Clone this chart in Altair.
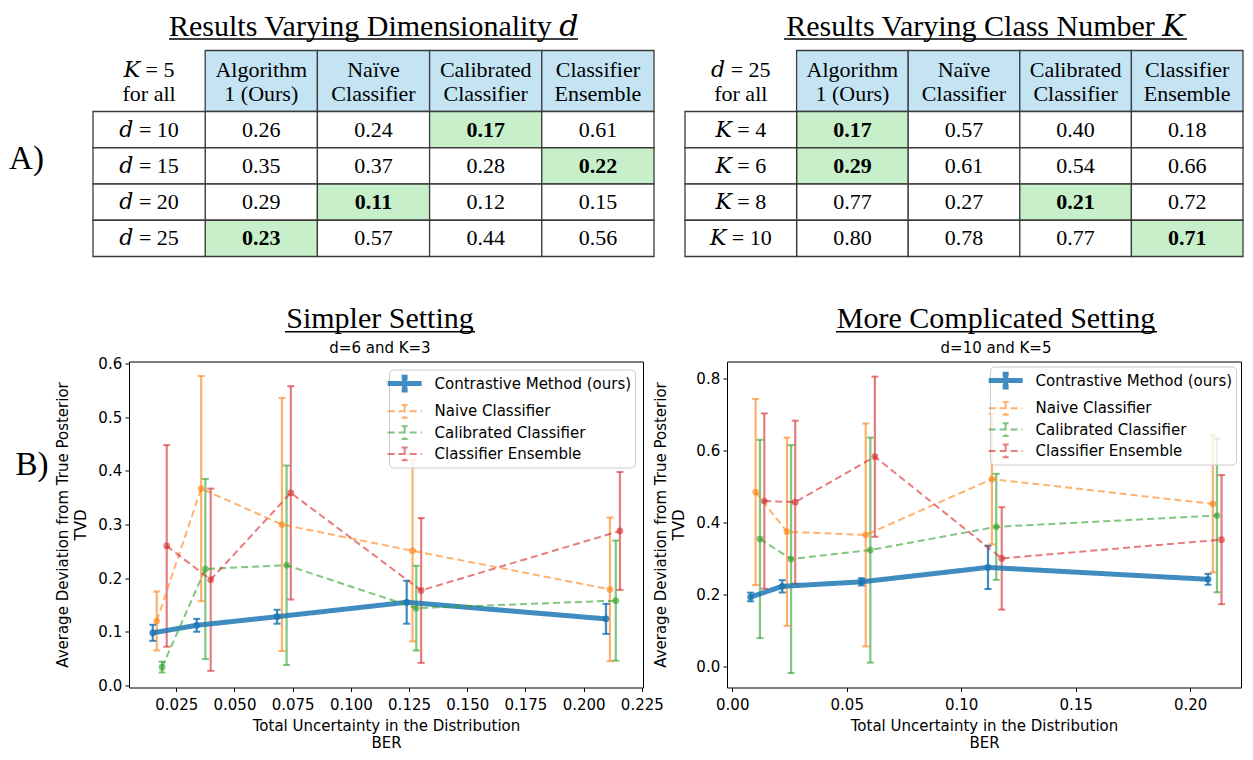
import altair as alt
import pandas as pd

SERIF = "Liberation Serif, DejaVu Serif, serif"
SANS = "DejaVu Sans"
HEAD = "#c4e4f4"
GREEN = "#c6efca"
BORDER = "#3c3c3c"

# ---------------- Tables ----------------
methods = ["Algorithm\n1 (Ours)", "Naïve\nClassifier", "Calibrated\nClassifier", "Classifier\nEnsemble"]

t1_title = "Results Varying Dimensionality 𝑑"
t1_corner = "𝐾 = 5\nfor all"
t1_rows = ["𝑑 = 10", "𝑑 = 15", "𝑑 = 20", "𝑑 = 25"]
t1_alg = [0.26, 0.35, 0.29, 0.23]
t1_naive = [0.24, 0.37, 0.11, 0.57]
t1_cal = [0.17, 0.28, 0.12, 0.44]
t1_ens = [0.61, 0.22, 0.15, 0.56]

t2_title = "Results Varying Class Number 𝐾"
t2_corner = "𝑑 = 25\nfor all"
t2_rows = ["𝐾 = 4", "𝐾 = 6", "𝐾 = 8", "𝐾 = 10"]
t2_alg = [0.17, 0.29, 0.77, 0.80]
t2_naive = [0.57, 0.61, 0.27, 0.78]
t2_cal = [0.40, 0.54, 0.21, 0.77]
t2_ens = [0.18, 0.66, 0.72, 0.71]

# ---------------- Plots ----------------
series = ["Contrastive Method (ours)", "Naive Classifier", "Calibrated Classifier", "Classifier Ensemble"]
colors = ["#1f77b4", "#ff7f0e", "#2ca02c", "#d62728"]

# Simpler setting (d=6, K=3)
s_x = [
    [0.0149, 0.0338, 0.0683, 0.1240, 0.2096],
    [0.0166, 0.0357, 0.0704, 0.1265, 0.2113],
    [0.0189, 0.0375, 0.0724, 0.1281, 0.2138],
    [0.0209, 0.0398, 0.0742, 0.1302, 0.2156],
]
s_y = [
    [0.098, 0.112, 0.128, 0.155, 0.124],
    [0.120, 0.367, 0.300, 0.251, 0.179],
    [0.034, 0.217, 0.224, 0.144, 0.158],
    [0.260, 0.197, 0.359, 0.177, 0.288],
]
s_err = [
    [0.015, 0.012, 0.013, 0.040, 0.028],
    [0.055, 0.210, 0.236, 0.169, 0.134],
    [0.010, 0.168, 0.186, 0.079, 0.112],
    [0.188, 0.170, 0.199, 0.135, 0.110],
]

# More complicated setting (d=10, K=5)
c_x = [
    [0.0080, 0.0218, 0.0564, 0.1117, 0.2078],
    [0.0102, 0.0239, 0.0583, 0.1134, 0.2099],
    [0.0121, 0.0257, 0.0603, 0.1153, 0.2117],
    [0.0140, 0.0275, 0.0623, 0.1177, 0.2137],
]
c_y = [
    [0.193, 0.2225, 0.235, 0.275, 0.242],
    [0.484, 0.374, 0.365, 0.520, 0.451],
    [0.354, 0.298, 0.323, 0.3875, 0.419],
    [0.459, 0.456, 0.582, 0.300, 0.352],
]
c_err = [
    [0.012, 0.017, 0.010, 0.060, 0.015],
    [0.258, 0.261, 0.309, 0.181, 0.190],
    [0.275, 0.316, 0.312, 0.147, 0.213],
    [0.243, 0.226, 0.222, 0.142, 0.179],
]

s_xticks = [0.025, 0.05, 0.075, 0.1, 0.125, 0.15, 0.175, 0.2, 0.225]
s_yticks = [0.0, 0.1, 0.2, 0.3, 0.4, 0.5, 0.6]
c_xticks = [0.0, 0.05, 0.1, 0.15, 0.2]
c_yticks = [0.0, 0.2, 0.4, 0.6, 0.8]

HEAD_H = 61
BODY_H = 145
PLOT_W, PLOT_H = 514, 326
ONE = pd.DataFrame({"u": [0]})


def underline(x0, x1, y):
    # decorative underline beneath a title
    return alt.Chart(ONE).mark_rule(color="black", strokeWidth=1.4).encode(
        x=alt.value(x0), x2=alt.value(x1), y=alt.value(y))


def table(title, tdx, ul, xrange, corner, rows, cols):
    domain = [corner] + methods
    bx = alt.X("col:N", scale=alt.Scale(domain=domain, range=xrange, paddingInner=0, paddingOuter=0),
               axis=None)
    by = alt.Y("row:N", scale=alt.Scale(domain=rows, paddingInner=0, paddingOuter=0), axis=None)
    hdf = pd.DataFrame({"col": methods})
    cdf = pd.DataFrame({"col": [corner]})
    h_rect = alt.Chart(hdf).mark_rect(fill=HEAD, stroke=BORDER, strokeWidth=1.3).encode(
        x=bx, y=alt.value(-HEAD_H), y2=alt.value(0))
    h_text = alt.Chart(hdf).mark_text(font=SERIF, fontSize=22, lineBreak="\n", lineHeight=24,
                                      color="black").encode(x=bx, y=alt.value(-41.5), text="col:N")
    c_text = alt.Chart(cdf).mark_text(font=SERIF, fontSize=22, lineBreak="\n", lineHeight=24,
                                      color="black").encode(x=bx, y=alt.value(-41.5), text="col:N")

    recs = []
    for i, r in enumerate(rows):
        vals = [c[i] for c in cols]
        m = min(vals)
        for meth, v in zip(methods, vals):
            recs.append({"row": r, "col": meth, "val": v, "best": bool(v == m)})
    vdf = pd.DataFrame(recs)
    ldf = pd.DataFrame({"row": rows, "col": [corner] * len(rows)})
    r_vals = alt.Chart(vdf).mark_rect(stroke=BORDER, strokeWidth=1.3).encode(
        x=bx, y=by, fill=alt.condition("datum.best", alt.value(GREEN), alt.value("white")))
    r_lab = alt.Chart(ldf).mark_rect(fill="white", stroke=BORDER, strokeWidth=1.3).encode(x=bx, y=by)
    t_norm = alt.Chart(vdf).transform_filter("!datum.best").mark_text(
        font=SERIF, fontSize=22, color="black").encode(x=bx, y=by, text=alt.Text("val:Q", format=".2f"))
    t_best = alt.Chart(vdf).transform_filter("datum.best").mark_text(
        font=SERIF, fontSize=22, fontWeight="bold", color="black").encode(
        x=bx, y=by, text=alt.Text("val:Q", format=".2f"))
    t_lab = alt.Chart(ldf).mark_text(font=SERIF, fontSize=22, color="black").encode(
        x=bx, y=by, text="row:N")
    return alt.layer(h_rect, r_vals, r_lab, h_text, c_text, t_norm, t_best, t_lab,
                     underline(ul[0], ul[1], -72.5)).properties(
        width=PLOT_W, height=BODY_H,
        title=alt.TitleParams(title, font=SERIF, fontSize=30, fontWeight="normal", color="black",
                              anchor="middle", dx=tdx, offset=-3.2))


LEG_PATH = "M-2,0H2M0,-0.75V0.75M-0.35,-0.75H0.35M-0.35,0.75H0.35"


def plot(xs_l, ys_l, es_l, xdom, ydom, xticks, xfmt, yticks, title, subtitle, tdx, ul, loff):
    recs = []
    for s, xs, ys, es in zip(series, xs_l, ys_l, es_l):
        for xv, yv, ev in zip(xs, ys, es):
            recs.append({"series": s, "x": xv, "y": yv, "lo": yv - ev, "hi": yv + ev})
    df = pd.DataFrame(recs)
    leg = alt.Legend(title=None, orient="top-right", offset=loff, fillColor="rgba(255,255,255,0.8)",
                     strokeColor="#cccccc", cornerRadius=4, padding=3, labelFont=SANS, labelFontSize=15,
                     labelColor="black", labelLimit=400, symbolType=LEG_PATH, symbolSize=289,
                     symbolOffset=1.65, labelOffset=18.9, rowPadding=0.3)
    X = alt.X("x:Q", scale=alt.Scale(domain=xdom, nice=False, zero=False),
              axis=alt.Axis(values=xticks, format=xfmt, labelPadding=6.4, titlePadding=5.3,
                            titleLineHeight=17,
                            title=["Total Uncertainty in the Distribution", "BER"]))

    def Y(field):
        return alt.Y(field, type="quantitative", scale=alt.Scale(domain=ydom, nice=False, zero=False),
                     axis=alt.Axis(values=yticks, format=".1f", labelPadding=3.3, titlePadding=9.5,
                                   titleLineHeight=18.3,
                                   title=["Average Deviation from True Posterior", "TVD"]))

    color = alt.Color("series:N", scale=alt.Scale(domain=series, range=colors), legend=leg)
    opac = alt.Opacity("series:N", scale=alt.Scale(type="ordinal", domain=series, range=[0.85, 0.6, 0.6, 0.6]),
                       legend=leg)
    dash = alt.StrokeDash("series:N", scale=alt.Scale(domain=series, range=[[1, 0], [7, 4], [7, 4], [7, 4]]),
                          legend=leg)
    sw = alt.StrokeWidth("series:N", scale=alt.Scale(type="ordinal", domain=series, range=[5, 2, 2, 2]),
                         legend=leg)

    base = alt.Chart(df)
    bars = base.mark_rule(strokeWidth=2.2).encode(x=X, y=Y("lo"), y2="hi:Q", color=color, opacity=opac)
    caps = base.transform_fold(["lo", "hi"], as_=["k", "v"]).mark_tick(
        orient="horizontal", size=7, thickness=2).encode(x=X, y=Y("v"), color=color, opacity=opac)
    lines = base.mark_line().encode(x=X, y=Y("y"), color=color, opacity=opac, strokeDash=dash, strokeWidth=sw)
    pts = base.mark_circle(size=45).encode(x=X, y=Y("y"), color=color, opacity=opac)
    return alt.layer(bars, caps, lines, pts, underline(ul[0], ul[1], -29.8)).properties(
        width=PLOT_W, height=PLOT_H, view=alt.ViewBackground(stroke="black", strokeWidth=1),
        title=alt.TitleParams(title, subtitle=subtitle, font=SERIF, fontSize=30, fontWeight="normal",
                              color="black", subtitleFont=SANS, subtitleFontSize=15, subtitleColor="black",
                              anchor="middle", dx=tdx, offset=-25.15, subtitlePadding=7.15))


tab1 = table(t1_title, -12.3, (40, 449), [-36, 525], t1_corner, t1_rows, [t1_alg, t1_naive, t1_cal, t1_ens])
tab2 = table(t2_title, 1.5, (57, 460), [-42, 516], t2_corner, t2_rows, [t2_alg, t2_naive, t2_cal, t2_ens])

lab_a = alt.Chart(pd.DataFrame({"lab": ["A)"]})).mark_text(
    font=SERIF, fontSize=33, color="black", dy=-25.3).encode(text="lab:N").properties(width=37, height=BODY_H)
lab_b = alt.Chart(pd.DataFrame({"lab": ["B)"]})).mark_text(
    font=SERIF, fontSize=33, color="black", dx=5.5).encode(text="lab:N").properties(width=37, height=207)

p1 = plot(s_x, s_y, s_err, [0.0047, 0.2255], [-0.004, 0.604], s_xticks, ".3f", s_yticks,
          "Simpler Setting", "d=6 and K=3", -6, (156, 346), 8)
p2 = plot(c_x, c_y, c_err, [-0.0023, 0.2222], [-0.058, 0.846], c_xticks, ".2f", c_yticks,
          "More Complicated Setting", "d=10 and K=5", 12, (109, 430), 5)

chart = alt.concat(lab_a, tab1, tab2, lab_b, p1, p2, columns=3,
                   spacing={"row": 105, "column": 84}, bounds="flush", align="each").resolve_scale(
    color="independent", opacity="independent", strokeDash="independent", strokeWidth="independent"
).properties(padding={"top": 3.5, "left": 0, "right": 0, "bottom": 1}).configure_view(
    stroke=None).configure_axis(
    labelFont=SANS, labelFontSize=15, labelColor="black", titleFont=SANS, titleFontSize=15,
    titleFontWeight="normal", titleColor="black", tickColor="black", tickSize=4, tickWidth=1,
    domain=False, grid=False)

chart.save("out.html", embed_options={"renderer": "svg", "actions": False})
